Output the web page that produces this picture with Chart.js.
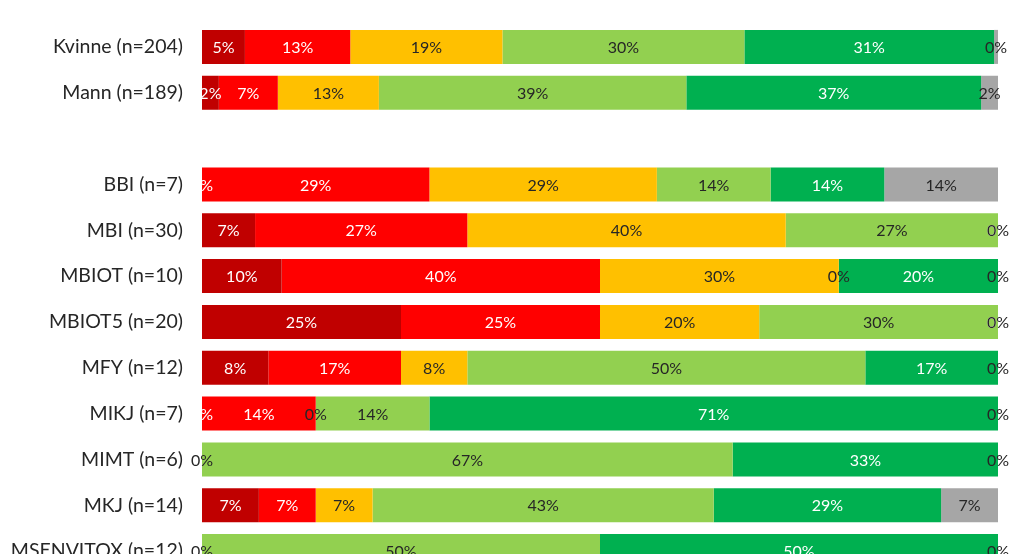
<!DOCTYPE html>
<html>
<head>
<meta charset="utf-8">
<script src="https://cdn.jsdelivr.net/npm/chart.js@4/dist/chart.umd.min.js"></script>
<style>
  html, body { margin: 0; padding: 0; background: #fff; overflow: hidden; }
  #wrap { width: 1023px; height: 600px; position: relative; }
</style>
</head>
<body>
<div id="wrap"><canvas id="chart"></canvas></div>
<script>
// Categories (blank row separates gender from programmes)
const categories = ['Kvinne (n=204)', 'Mann (n=189)', '', 'BBI (n=7)', 'MBI (n=30)', 'MBIOT (n=10)',
    'MBIOT5 (n=20)', 'MFY (n=12)', 'MIKJ (n=7)', 'MIMT (n=6)', 'MKJ (n=14)', 'MSENVITOX (n=12)'];
const totals = [204, 189, null, 7, 30, 10, 20, 12, 7, 6, 14, 12];

// Answer counts per category, one array per answer level
const level1 = [11, 4, null, 0, 2, 1, 5, 1, 0, null, 1, null];
const level2 = [27, 14, null, 2, 8, 4, 5, 2, 1, null, 1, null];
const level3 = [39, 24, null, 2, 12, 3, 4, 1, 0, 0, 1, 0];
const level4 = [62, 73, null, 1, 8, 0, 6, 6, 1, 4, 6, 6];
const level5 = [64, 70, null, 1, 0, 2, 0, 2, 5, 2, 4, 6];
const level6 = [1, 4, null, 1, 0, 0, 0, 0, 0, 0, 1, 0];

const seriesNames = ['Nivå 1', 'Nivå 2', 'Nivå 3', 'Nivå 4', 'Nivå 5', 'Vet ikke'];
const seriesColors = ['#C00000', '#FF0000', '#FFC000', '#92D050', '#00B050', '#A6A6A6'];
const labelColors = ['#ffffff', '#ffffff', '#262626', '#262626', '#ffffff', '#262626'];

// Convert counts to percent of n
function toPercent(counts) {
    return counts.map((c, i) => (c === null || totals[i] === null) ? null : c / totals[i] * 100);
}

const datasets = [level1, level2, level3, level4, level5, level6].map((counts, i) => ({
    label: seriesNames[i],
    data: toPercent(counts),
    backgroundColor: seriesColors[i],
    borderWidth: 0,
    categoryPercentage: 1,
    barPercentage: 0.742
}));

// Draw the percent labels centred in each segment
const segmentLabels = {
    id: 'segmentLabels',
    afterDatasetsDraw(chart) {
        const ctx = chart.ctx;
        ctx.save();
        ctx.font = '16px Lato, "Open Sans", sans-serif';
        ctx.textAlign = 'center';
        ctx.textBaseline = 'middle';
        chart.data.datasets.forEach((ds, di) => {
            const meta = chart.getDatasetMeta(di);
            meta.data.forEach((bar, i) => {
                const v = ds.data[i];
                if (v === null || v === undefined) return;
                const p = bar.getProps(['x', 'y', 'base'], true);
                ctx.fillStyle = labelColors[di];
                ctx.fillText(Math.round(v) + '%', (p.x + p.base) / 2, p.y + 1);
            });
        });
        ctx.restore();
    }
};

new Chart(document.getElementById('chart'), {
    type: 'bar',
    data: { labels: categories, datasets: datasets },
    plugins: [segmentLabels],
    options: {
        indexAxis: 'y',
        responsive: true,
        maintainAspectRatio: false,
        animation: false,
        layout: { padding: { top: 24, right: 25, bottom: 26, left: 0 } },
        plugins: {
            legend: { display: false },
            tooltip: { enabled: false }
        },
        scales: {
            x: {
                stacked: true,
                min: 0,
                max: 100,
                display: false
            },
            y: {
                stacked: true,
                grid: { display: false, drawTicks: false },
                border: { display: false },
                ticks: {
                    padding: 19,
                    color: '#262626',
                    font: { family: 'Lato, "Open Sans", sans-serif', size: 19.5 }
                },
                afterFit(scale) {
                    scale.width = 202;
                    scale.paddingTop = 0;
                    scale.paddingBottom = 0;
                }
            }
        }
    }
});
</script>
</body>
</html>
